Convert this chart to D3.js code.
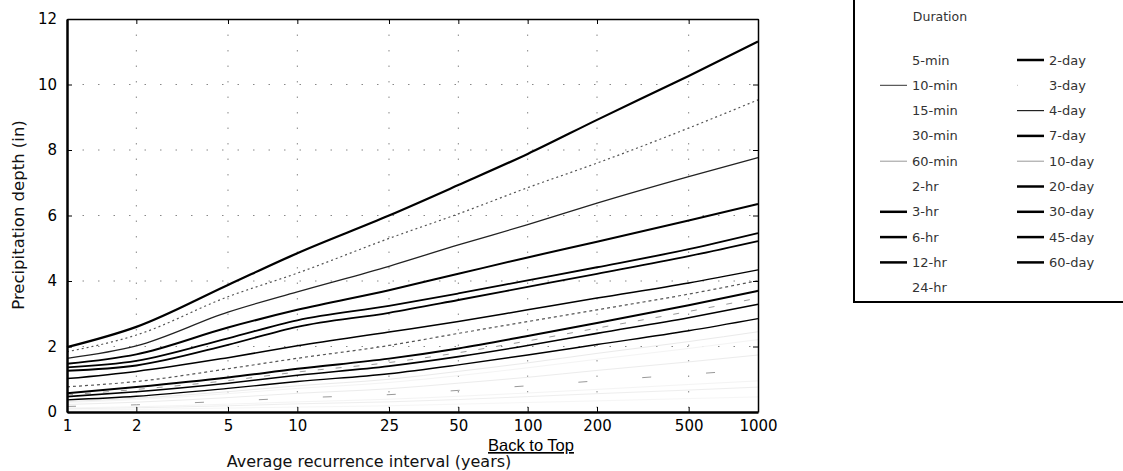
<!DOCTYPE html>
<html>
<head>
<meta charset="utf-8">
<script src="https://cdn.jsdelivr.net/npm/d3@7/dist/d3.min.js"></script>
<style>
body { margin: 0; background: #fff; }
#chart { width: 1123px; height: 471px; }
text { font-family: "DejaVu Sans", sans-serif; }
</style>
</head>
<body>
<div id="chart"></div>
<script>
// recurrence intervals (years)
var intervals = [1, 2, 5, 10, 25, 50, 100, 200, 500, 1000];
var yTicks = [0, 2, 4, 6, 8, 10, 12];

// depths (in), one array per duration
var d5min  = [0.06, 0.08, 0.12, 0.15, 0.19, 0.24, 0.29, 0.34, 0.41, 0.46];
var d10min = [0.10, 0.13, 0.19, 0.25, 0.31, 0.38, 0.47, 0.56, 0.67, 0.76];
var d15min = [0.12, 0.16, 0.24, 0.31, 0.39, 0.48, 0.58, 0.69, 0.84, 0.95];
var d30min = [0.17, 0.22, 0.33, 0.43, 0.53, 0.66, 0.80, 0.95, 1.15, 1.30];
var d60min = [0.23, 0.30, 0.44, 0.57, 0.71, 0.88, 1.06, 1.27, 1.53, 1.74];
var d2hr   = [0.29, 0.38, 0.56, 0.72, 0.90, 1.11, 1.35, 1.61, 1.94, 2.21];
var d3hr   = [0.32, 0.42, 0.62, 0.80, 1.00, 1.24, 1.50, 1.79, 2.15, 2.45];
var d6hr   = [0.37, 0.48, 0.72, 0.93, 1.17, 1.44, 1.74, 2.06, 2.48, 2.85];
var d12hr  = [0.47, 0.62, 0.88, 1.12, 1.40, 1.69, 2.03, 2.40, 2.88, 3.29];
var d24hr  = [0.52, 0.69, 0.96, 1.22, 1.51, 1.81, 2.17, 2.56, 3.07, 3.48];
var d2day  = [0.57, 0.76, 1.05, 1.32, 1.63, 1.94, 2.32, 2.72, 3.26, 3.70];
var d3day  = [0.77, 0.93, 1.32, 1.64, 2.03, 2.40, 2.76, 3.12, 3.60, 4.01];
var d4day  = [1.02, 1.24, 1.66, 2.02, 2.44, 2.76, 3.12, 3.48, 3.94, 4.34];
var d7day  = [1.26, 1.42, 2.05, 2.60, 3.03, 3.42, 3.82, 4.22, 4.76, 5.22];
var d10day = [1.36, 1.56, 2.25, 2.80, 3.24, 3.62, 4.02, 4.42, 4.97, 5.46];
var d20day = [1.47, 1.76, 2.58, 3.12, 3.72, 4.22, 4.72, 5.20, 5.85, 6.35];
var d30day = [1.64, 2.02, 3.05, 3.67, 4.45, 5.10, 5.72, 6.38, 7.19, 7.77];
var d45day = [1.84, 2.35, 3.52, 4.24, 5.30, 6.05, 6.85, 7.60, 8.67, 9.53];
var d60day = [1.98, 2.60, 3.88, 4.85, 6.00, 6.93, 7.88, 8.92, 10.26, 11.31];

var durations = ["5-min", "10-min", "15-min", "30-min", "60-min", "2-hr", "3-hr", "6-hr", "12-hr", "24-hr",
                 "2-day", "3-day", "4-day", "7-day", "10-day", "20-day", "30-day", "45-day", "60-day"];
var depths = [d5min, d10min, d15min, d30min, d60min, d2hr, d3hr, d6hr, d12hr, d24hr,
              d2day, d3day, d4day, d7day, d10day, d20day, d30day, d45day, d60day];

// line looks (plot)
var lineColor = ["#f6f6f6", "#eeeeee", "#f4f4f4", "#999", "#ececec", "#f4f4f4", "#eaeaea", "#000", "#000", "#999",
                 "#000", "#555", "#000", "#000", "#000", "#000", "#222", "#555", "#000"];
var lineWidth = [1, 1, 1, 1, 1, 1, 1, 1.4, 1.6, 1, 2, 1.2, 1.5, 1.8, 1.8, 2, 1.3, 1.2, 2.2];
var lineDash  = [null, null, null, "9,55", null, null, null, null, null, "6,12",
                 null, "3,3", null, null, null, null, null, "2,3", null];
// legend swatch looks
var legColor = ["#fff", "#333", "#fff", "#fff", "#999", "#fff", "#000", "#000", "#000", "#fff",
                "#000", "#bbb", "#222", "#000", "#999", "#000", "#000", "#000", "#000"];
var legWidth = [1, 1, 1, 1, 1, 1, 2.5, 2.5, 2.5, 1, 2.5, 1, 1.2, 2.5, 1, 2.5, 2.5, 2.5, 2.5];

var margin = {left: 67, top: 19, right: 365, bottom: 59};
var W = 1123, H = 471;
var width = W - margin.left - margin.right,
    height = H - margin.top - margin.bottom;

var svg = d3.select("#chart").append("svg")
  .attr("width", W).attr("height", H);

var g = svg.append("g").attr("transform", "translate(" + margin.left + "," + margin.top + ")");

var x = d3.scaleLog().domain([1, 1000]).range([0, width]);
var y = d3.scaleLinear().domain([0, 12]).range([height, 0]);

// dotted grid
g.append("g").selectAll("line.vg").data(intervals.slice(1, -1)).enter().append("line")
  .attr("x1", function(d) { return x(d); }).attr("x2", function(d) { return x(d); })
  .attr("y1", 0).attr("y2", height)
  .attr("stroke", "#888").attr("stroke-width", 1).attr("stroke-dasharray", "1.5,14");
g.append("g").selectAll("line.hg").data(yTicks.slice(1, -1)).enter().append("line")
  .attr("y1", function(d) { return y(d); }).attr("y2", function(d) { return y(d); })
  .attr("x1", 0).attr("x2", width)
  .attr("stroke", "#888").attr("stroke-width", 1).attr("stroke-dasharray", "1.5,14");

// curves
var line = d3.line()
  .x(function(d, i) { return x(intervals[i]); })
  .y(function(d) { return y(d); })
  .curve(d3.curveMonotoneX);

g.append("g").selectAll("path").data(depths).enter().append("path")
  .attr("d", line)
  .attr("fill", "none")
  .attr("stroke", function(d, i) { return lineColor[i]; })
  .attr("stroke-width", function(d, i) { return lineWidth[i]; })
  .attr("stroke-dasharray", function(d, i) { return lineDash[i]; });

// axes
var xAxis = d3.axisBottom(x).tickValues(intervals).tickFormat(d3.format("d")).tickSizeInner(-5).tickSizeOuter(0).tickPadding(8);
var xTop = d3.axisTop(x).tickValues(intervals).tickFormat("").tickSizeInner(-5).tickSizeOuter(0);
var yAxis = d3.axisLeft(y).tickValues(yTicks).tickSizeInner(-5).tickSizeOuter(0).tickPadding(10);
var yRight = d3.axisRight(y).tickValues(yTicks).tickFormat("").tickSizeInner(-5).tickSizeOuter(0);

function styleAxis(sel, w) {
  sel.select(".domain").attr("stroke", "#000").attr("stroke-width", w);
  sel.selectAll(".tick line").attr("stroke", "#000");
  sel.selectAll("text").attr("fill", "#000").style("font-size", "15px").style("font-family", "DejaVu Sans");
}

g.append("g").attr("transform", "translate(0," + height + ")").call(xAxis).call(styleAxis, 2.5);
g.append("g").call(xTop).call(styleAxis, 1.5);
g.append("g").call(yAxis).call(styleAxis, 2.5);
g.append("g").attr("transform", "translate(" + width + ",0)").call(yRight).call(styleAxis, 1.5);

// axis titles
svg.append("text")
  .attr("transform", "translate(24,215) rotate(-90)")
  .attr("text-anchor", "middle").style("font-size", "16.5px").attr("fill", "#111")
  .text("Precipitation depth (in)");

svg.append("text")
  .attr("x", 369).attr("y", 467)
  .attr("text-anchor", "middle").style("font-size", "16px").attr("fill", "#111")
  .text("Average recurrence interval (years)");

svg.append("text")
  .attr("x", 531).attr("y", 451)
  .attr("text-anchor", "middle")
  .style("font-family", "Liberation Sans, Arial, sans-serif").style("font-size", "16.5px")
  .style("text-decoration", "underline").attr("fill", "#000")
  .text("Back to Top");

// legend
var leg = svg.append("g");
leg.append("rect")
  .attr("x", 854).attr("y", -3).attr("width", 280).attr("height", 305)
  .attr("fill", "#fff").attr("stroke", "#000").attr("stroke-width", 2);
leg.append("text")
  .attr("x", 940).attr("y", 21).attr("text-anchor", "middle")
  .style("font-size", "12.5px").attr("fill", "#333").text("Duration");

var rows = 10, rowH = 25.3, row0 = 60;
var item = leg.selectAll("g.item").data(durations).enter().append("g")
  .attr("transform", function(d, i) {
    var col = i < rows ? 0 : 1, r = i < rows ? i : i - rows;
    return "translate(" + (col === 0 ? 880 : 1017) + "," + (row0 + r * rowH) + ")";
  });
item.append("line")
  .attr("x1", 0).attr("x2", 27).attr("y1", 0).attr("y2", 0)
  .attr("stroke", function(d, i) { return legColor[i]; })
  .attr("stroke-width", function(d, i) { return legWidth[i]; })
  .attr("stroke-dasharray", function(d, i) { return i === 11 ? "1,30" : null; });
item.append("text")
  .attr("x", 32).attr("y", 4.5)
  .style("font-size", "13px").attr("fill", "#333")
  .text(function(d) { return d; });
</script>
</body>
</html>
